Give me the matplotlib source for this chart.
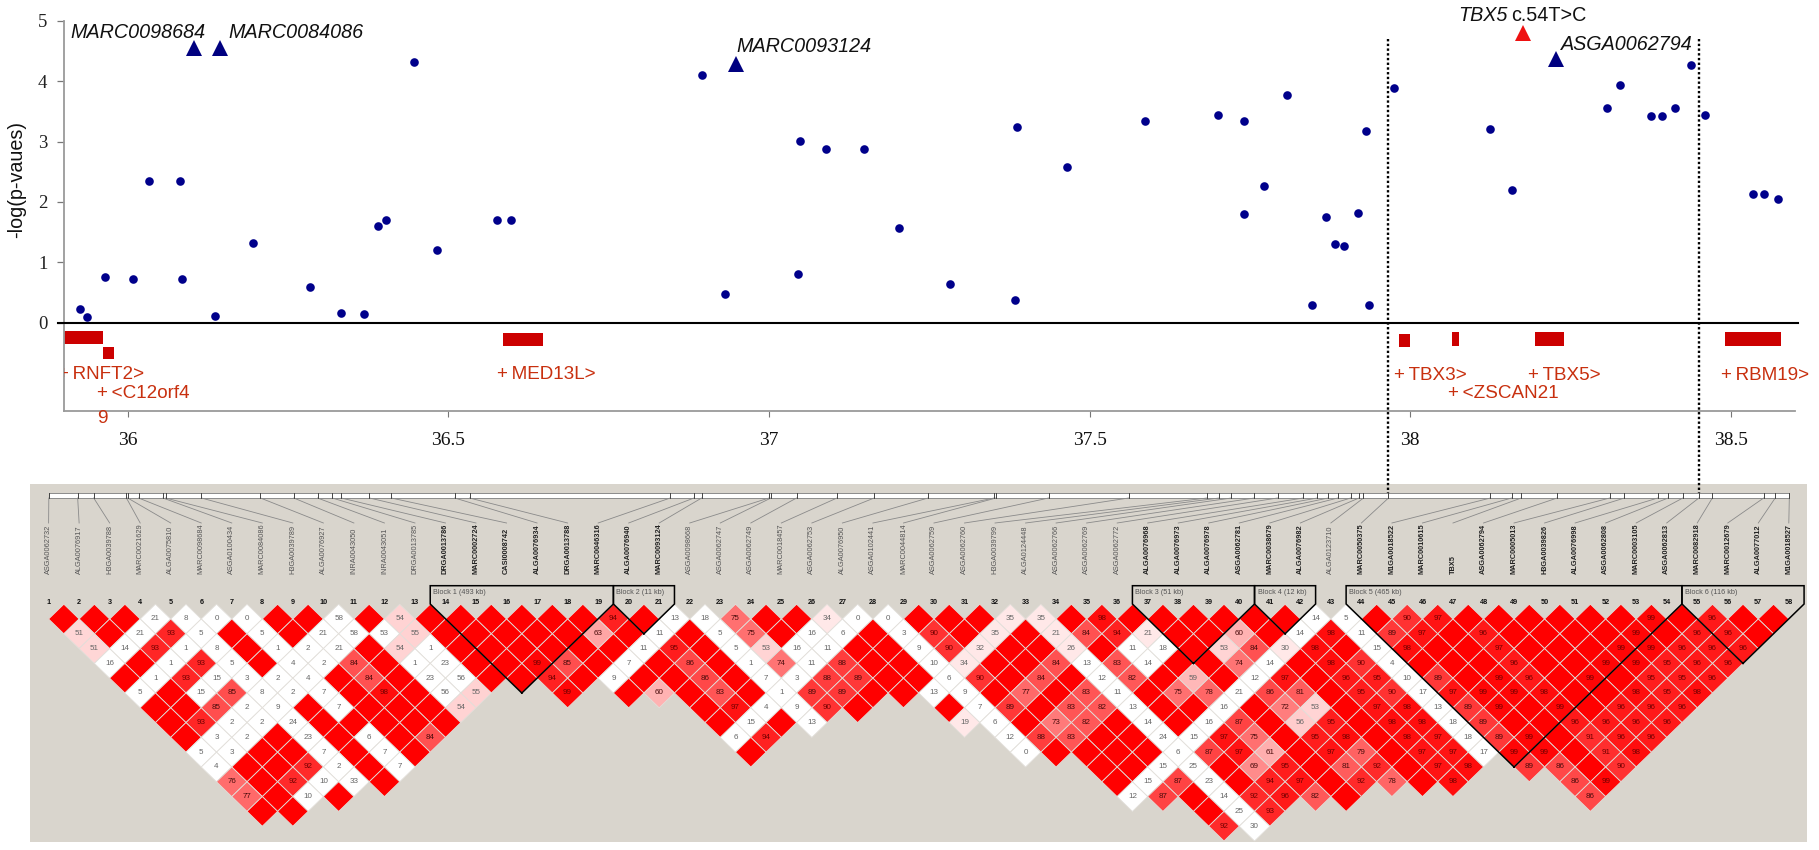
import numpy as np
import matplotlib
matplotlib.use("Agg")
import matplotlib.pyplot as plt
from matplotlib.collections import PolyCollection

W, H = 1819, 850
plt.rcParams['font.family'] = ['Liberation Sans', 'DejaVu Sans']

# ---- association scan (Mb, -log p) ----
pos_mb = [35.925,35.936,35.965,36.009,36.033,36.081,36.084,36.136,36.195,36.285,36.333,36.368,36.390,36.403,
          36.446,36.482,36.576,36.597,36.896,36.932,37.048,37.045,37.089,37.148,37.202,37.283,37.384,37.386,
          37.464,37.586,37.700,37.740,37.807,37.772,37.740,37.869,37.847,37.931,37.918,37.883,37.896,37.936,
          37.974,38.125,38.158,38.306,38.327,38.376,38.393,38.413,38.438,38.460,38.535,38.552,38.574]
pos_val = [0.226,0.088,0.751,0.728,2.345,2.345,0.728,0.110,1.32,0.585,0.160,0.138,1.60,1.70,
           4.32,1.20,1.70,1.70,4.106,0.469,3.013,0.80,2.87,2.87,1.56,0.635,0.37,3.245,
           2.583,3.344,3.44,3.344,3.77,2.27,1.80,1.75,0.30,3.18,1.82,1.30,1.275,0.30,
           3.89,3.20,2.20,3.56,3.935,3.416,3.416,3.56,4.27,3.44,2.13,2.13,2.04]
top_names = ['MARC0098684','MARC0084086','MARC0093124','ASGA0062794']
top_mb = [36.104,36.144,36.948,38.227]
top_val = [4.54,4.54,4.28,4.36]
tbx_mb, tbx_val = 38.176, 4.79
dotted_mb = [37.966,38.450]

gene_start = [35.90,35.961,36.585,37.982,38.065,38.194,38.491]
gene_end   = [35.962,35.978,36.647,37.999,38.076,38.239,38.578]
gene_low   = [-0.353,-0.607,-0.381,-0.408,-0.38,-0.38,-0.38]
gene_high  = [-0.138,-0.397,-0.166,-0.18,-0.16,-0.16,-0.16]
gene_text  = ['+\u2009RNFT2>','+\u2009<C12orf4','9','+\u2009MED13L>','+\u2009TBX3>','+\u2009<ZSCAN21','+\u2009TBX5>','+\u2009RBM19>']
gene_text_x= [35.891,35.952,35.952,36.576,37.974,38.059,38.184,38.484]
gene_text_y= [-0.85,-1.18,-1.578,-0.85,-0.877,-1.18,-0.877,-0.877]

# ---- LD plot ----
marker_names = ['ASGA0062732','ALGA0076917','H3GA0039788','MARC0021629','ALGA0075810','MARC0098684','ASGA0100434',
    'MARC0084086','H3GA0039789','ALGA0076927','INRA0043050','INRA0043051','DRGA0013785','DRGA0013786','MARC0002724',
    'CASI0008742','ALGA0076934','DRGA0013788','MARC0046316','ALGA0076940','MARC0093124','ASGA0098668','ASGA0062747',
    'ASGA0062749','MARC0018457','ASGA0062753','ALGA0076950','ASGA0102441','MARC0044814','ASGA0062759','ASGA0062760',
    'H3GA0039799','ALGA0124448','ASGA0062766','ASGA0062769','ASGA0062772','ALGA0076968','ALGA0076973','ALGA0076978',
    'ASGA0062781','MARC0038679','ALGA0076982','ALGA0123710','MARC0050375','M1GA0018522','MARC0010615','TBX5',
    'ASGA0062794','MARC0005013','H3GA0039826','ALGA0076998','ASGA0062808','MARC0003105','ASGA0062813','MARC0082918',
    'MARC0012679','ALGA0077012','M1GA0018527']
bold_markers = list(range(14,22)) + list(range(37,43)) + list(range(44,59))
marker_mb = [35.877,35.922,35.947,35.998,36.000,36.017,36.055,36.059,36.115,36.207,36.259,36.296,36.319,36.333,
    36.377,36.411,36.510,36.533,36.846,36.883,36.895,37.000,37.003,37.043,37.106,37.164,37.248,37.351,37.354,
    37.436,37.561,37.683,37.702,37.721,37.757,37.793,37.833,37.855,37.872,37.887,37.907,37.920,37.927,37.966,
    38.125,38.158,38.173,38.229,38.311,38.334,38.386,38.402,38.425,38.450,38.471,38.551,38.569,38.591]
blocks = [(14,19,'Block 1 (493 kb)'),(20,21,'Block 2 (11 kb)'),(37,40,'Block 3 (51 kb)'),
          (41,42,'Block 4 (12 kb)'),(44,54,'Block 5 (465 kb)'),(55,58,'Block 6 (116 kb)')]

R, X = 100, None
row1 = [R,R,R,21,8,0,0,R,R,58,R,54,R,R,R,R,R,R,94,R,13,18,75,R,R,34,0,0,R,R,R,35,35,R,98,R,R,R,R,R,R,14,5,R,90,97,R,R,R,R,R,R,99,R,96,R,R]
row2 = [51,R,21,93,5,R,5,R,21,58,53,55,R,R,R,R,R,63,R,11,R,5,75,R,16,6,R,3,90,R,35,R,21,84,94,21,R,R,60,R,14,98,11,89,97,R,96,R,R,R,R,99,R,96,96,R]
row3 = [51,14,93,1,8,R,1,2,21,R,54,1,R,R,R,R,R,R,11,95,R,5,53,16,11,R,R,9,90,32,R,R,26,R,11,18,R,53,84,30,98,R,15,98,R,R,97,R,R,R,99,99,96,96,96]
row4 = [16,R,1,93,5,R,4,2,84,R,1,23,R,R,99,85,R,7,R,86,R,1,74,11,88,R,R,10,34,R,R,84,13,83,14,R,R,74,14,R,98,90,4,R,R,R,96,R,R,99,99,95,96,96]
row5 = [R,1,93,15,3,2,4,R,84,R,23,56,R,R,94,R,9,R,R,86,R,7,3,88,89,R,R,6,90,R,84,R,12,82,R,59,R,12,97,R,96,95,10,89,R,99,96,R,99,R,95,95,96]
row6 = [5,R,15,85,8,2,7,R,98,R,56,55,X,X,99,X,R,60,R,83,R,1,89,89,R,R,13,9,R,77,R,83,11,R,75,78,21,86,81,R,95,90,17,97,99,99,98,R,R,98,95,98]
row7 = [R,R,85,2,9,R,7,R,R,R,54]+[X]*7+[R,97,4,9,90,R,X,X,R,7,89,R,83,82,13,R,R,16,R,72,53,R,97,98,13,89,99,R,99,R,96,96,96]
row8 = [R,93,2,2,24,R,R,R,R,R]+[X]*8+[R,15,R,13,X,X,X,X,19,6,R,73,82,R,14,R,16,87,R,56,95,R,98,98,18,89,R,R,96,96,96,96]
row9 = [R,3,2,R,23,R,6,R,84]+[X]*9+[6,94]+[X]*7+[12,88,83,R,R,24,15,97,75,R,95,98,R,98,97,18,89,99,R,91,96,96]
row10 = [5,3,R,R,7,R,7,R]+[X]*10+[R]+[X]*8+[0,R,R,R,R,6,87,97,61,R,97,79,R,97,97,17,99,99,R,91,98]
row11 = [4,R,R,92,2,R,7]+[X]*22+[R,R,15,25,R,69,95,R,81,92,R,97,98,X,89,86,R,90]
row12 = [76,R,92,10,33,R]+[X]*23+[R,15,87,23,R,94,97,R,92,78,R,98,X,X,X,86,99]
row13 = [77,R,10,R]+[X]*25+[12,87,R,14,92,96,82,R]+[X]*7+[86]
row14 = [R,R]+[X]*29+[R,25,93]
row15 = [X]*31+[92,30]
ld_rows = [row1,row2,row3,row4,row5,row6,row7,row8,row9,row10,row11,row12,row13,row14,row15]
white_cells = {(10,1),(10,2),(11,2),(11,6),(12,5),(5,12),(33,15)}
pale_cells  = {(33,2),(36,2),(33,3),(27,8)}

# ---- geometry helpers (pixel boxes of the two axes) ----
def set_box(ax, left, top, right, bottom):
    ax.set_position([left/W, 1-bottom/H, (right-left)/W, (bottom-top)/H])

X0_PX, MB_PX = 127.7, 641.3
Y0_PX, VAL_PX = 322.7, 60.4
mbx = lambda px: 36+(px-X0_PX)/MB_PX
valy = lambda py: (Y0_PX-py)/VAL_PX
IDX0, IDX_PX = 48.6, 30.53
R0, R_PX = 619.0, 14.8
idx = lambda px: 1+(px-IDX0)/IDX_PX
rr = lambda py: 1+(py-R0)/R_PX
mb_to_idx = lambda mb: idx(X0_PX+MB_PX*(mb-36))

fig = plt.figure(figsize=(W/100,H/100), dpi=100, facecolor='white')

# ---------- LD panel ----------
PANEL = '#d9d5cd'
ld = fig.add_axes([0,0,1,1], zorder=1)
set_box(ld, 30, 484, 1807, 842)
ld.set_xlim(idx(30), idx(1807)); ld.set_ylim(rr(842), rr(484))
ld.set_facecolor(PANEL)
for s in ld.spines.values(): s.set_visible(False)
ld.set_xticks([]); ld.set_yticks([])

shade_v = [30,35,55,60,63,75,85,90,96,100]
shade_g = [232,232,210,178,165,112,78,50,25,0]
def cell_color(i,r,v):
    if (i,r) in white_cells: return (1,1,1)
    if (i,r) in pale_cells: return (1,232/255,232/255)
    if v < 30: return (1,1,1)
    g = np.interp(v,shade_v,shade_g)/255
    return (1,g,g)

polys, cols = [], []
for k,row in enumerate(ld_rows):
    r = k+1
    for j,v in enumerate(row):
        if v is None: continue
        i = j+1
        cx = i+r/2
        polys.append([(cx-.5,r),(cx,r-1),(cx+.5,r),(cx,r+1)])
        cols.append(cell_color(i,r,v))
        if v < 100:
            if v >= 90: tc='#700000'
            elif v >= 60 and (i,r) not in white_cells: tc='#4a0c0c'
            else: tc='#666666'
            ld.text(cx,r,str(v),ha='center',va='center',fontsize=5.8,color=tc,zorder=4)
ld.add_collection(PolyCollection(polys,facecolors=cols,edgecolors='#e2dfda',linewidths=0.6,zorder=3))

# ruler
ld.fill_between([1,58],[rr(493.3)]*2,[rr(498)]*2,facecolor='white',edgecolor='#8c8c8c',linewidth=0.7,zorder=2)
for n,mb in enumerate(marker_mb,1):
    tx = mb_to_idx(mb)
    ld.plot([tx,tx],[rr(493.3),rr(498)],color='#444444',lw=0.7,zorder=3)
    ld.plot([tx,n],[rr(498),rr(523)],color='#8a8a8a',lw=0.6,zorder=2)
    bold = n in bold_markers
    ld.text(n,rr(574),marker_names[n-1],rotation=90,ha='center',va='bottom',fontsize=5.3,
            fontweight='bold' if bold else 'normal',color='#222222' if bold else '#555555')
    ld.text(n,rr(602.3),str(n),ha='center',va='center',fontsize=5.2,fontweight='bold',color='#111111',zorder=5)

# haplotype blocks
for a,b,lab in blocks:
    c = (a+b)/2
    tip = b-a+1
    xs = [c,a-.5,a-.5,b+.5,b+.5,c]
    ys = [tip,rr(604),rr(585.7),rr(585.7),rr(604),tip]
    ld.plot(xs,ys,color='black',lw=1.1,zorder=6,solid_joinstyle='miter')
    ld.text(a-.5+.1,rr(592.5),lab,ha='left',va='center',fontsize=5.2,color='#555555',zorder=6)

# ---------- association axes ----------
ax = fig.add_axes([0,0,1,1], zorder=5)
set_box(ax, 64, 20.7, 1795, 411)
ax.patch.set_visible(False)
ax.set_xlim(mbx(64), mbx(1795)); ax.set_ylim(valy(411), 5)
for s in ['top','right']: ax.spines[s].set_visible(False)
for s in ['left','bottom']:
    ax.spines[s].set_color('#9a9a9a'); ax.spines[s].set_linewidth(1.3)
ax.set_xticks([36,36.5,37,37.5,38,38.5]); ax.set_xticklabels(['36','36.5','37','37.5','38','38.5'])
ax.set_yticks([0,1,2,3,4,5])
ax.tick_params(axis='x',length=4.2,width=0.8,color='#777777',pad=11,labelsize=14,labelfontfamily='Liberation Serif',labelcolor='#111111')
ax.tick_params(axis='y',length=5,width=0.9,color='#777777',pad=7,labelsize=13.5,labelfontfamily='Liberation Serif',labelcolor='#222222')
ax.set_ylabel('-log(p-vaues)',fontsize=14.2,color='#111111',va='center')
ax.yaxis.set_label_coords((16.6-64)/(1795-64),(411-180)/(411-20.7))

ax.plot([mbx(58),mbx(1798)],[valy(323.3)]*2,color='black',lw=1.5,clip_on=False,zorder=3)
for mb in dotted_mb:
    ax.plot([mb,mb],[valy(39),valy(493)],color='black',lw=1.7,ls=(0,(1,1)),clip_on=False,zorder=6)

for s,e,lo,hi in zip(gene_start,gene_end,gene_low,gene_high):
    ax.fill_between([s,e],[lo,lo],[hi,hi],color='#cc0000',linewidth=0,zorder=2)
for t,x,y in zip(gene_text,gene_text_x,gene_text_y):
    ax.text(x,y,t,color='#c8300f',fontsize=13.6,ha='left',va='center',clip_on=('RNFT2' in t),zorder=4)

ax.plot(pos_mb,pos_val,'o',color='#00008b',ms=6.2,mew=0,zorder=4,clip_on=False)
ax.plot(top_mb,top_val,'^',color='#000080',ms=11,mew=0,zorder=4)
ax.plot([tbx_mb],[tbx_val],'^',color='#ee1111',ms=11,mew=0,zorder=4,clip_on=False)

for name,px,py in zip(top_names,[70.4,228,736,1560.7],[32.7,32.7,46.7,45]):
    ax.text(mbx(px),valy(py),name,style='italic',fontsize=14.2,ha='left',va='center',color='#111111')
ax.text(mbx(1458),valy(15.3),'TBX5',style='italic',fontsize=14.2,ha='left',va='center',color='#111111',clip_on=False)
ax.text(mbx(1511),valy(15.3),'c.54T>C',fontsize=14.2,ha='left',va='center',color='#111111',clip_on=False)

fig.savefig('out.png',dpi=100,facecolor='white')
